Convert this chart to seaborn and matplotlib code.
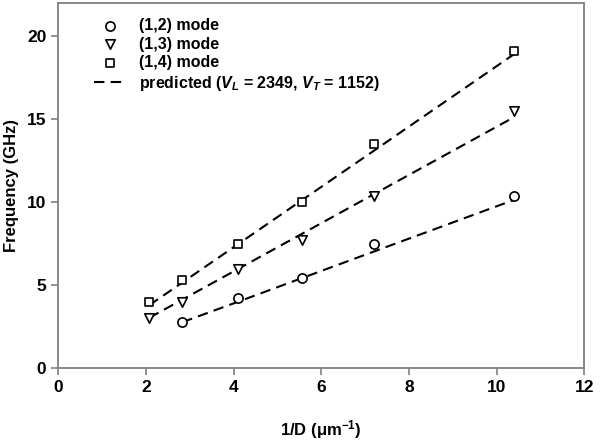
import matplotlib
matplotlib.use("Agg")
import matplotlib.pyplot as plt
import seaborn as sns

x_12 = [2.83, 4.11, 5.56, 7.2, 10.4]
f_12 = [2.8, 4.2, 5.4, 7.5, 10.35]
x_13 = [2.08, 2.83, 4.11, 5.56, 7.2, 10.4]
f_13 = [3.0, 3.95, 5.95, 7.7, 10.35, 15.5]
x_14 = [2.08, 2.83, 4.11, 5.56, 7.2, 10.4]
f_14 = [3.95, 5.3, 7.5, 10.0, 13.5, 19.1]

# predicted curves (V_L = 2349, V_T = 1152)
pred_12 = [2.76, 4.0, 5.42, 7.02, 10.14]
pred_13 = [3.03, 4.12, 5.98, 8.09, 10.48, 15.13]
pred_14 = [3.79, 5.15, 7.48, 10.12, 13.1, 18.93]

sns.set_style("ticks")
plt.rcParams['font.family'] = ['Liberation Sans', 'DejaVu Sans']
plt.rcParams['font.weight'] = 'bold'
plt.rcParams['text.color'] = 'black'
plt.rcParams['axes.labelcolor'] = 'black'
plt.rcParams['xtick.labelcolor'] = 'black'
plt.rcParams['ytick.labelcolor'] = 'black'
plt.rcParams['mathtext.fontset'] = 'custom'
plt.rcParams['mathtext.it'] = 'Liberation Sans:italic:bold'
plt.rcParams['mathtext.rm'] = 'Liberation Sans:bold'

fig = plt.figure(figsize=(6.0, 4.46), dpi=100)
ax = fig.add_axes([0.097, 0.175, 0.877, 0.818])

dash = (5, 3)
for xs, ps in [(x_12, pred_12), (x_13, pred_13), (x_14, pred_14)]:
    sns.lineplot(x=xs, y=ps, ax=ax, color='black', lw=1.5, dashes=False,
                 linestyle=(0, dash), zorder=2)

mk = dict(facecolor='white', edgecolor='black', linewidth=1.2, zorder=3)
sns.scatterplot(x=x_12, y=f_12, marker='o', s=44, ax=ax, label='(1,2) mode', **mk)
sns.scatterplot(x=x_13, y=f_13, marker='v', s=46, ax=ax, label='(1,3) mode', **mk)
sns.scatterplot(x=x_14, y=f_14, marker='s', s=32, ax=ax, label='(1,4) mode', **mk)

handles, labels = ax.get_legend_handles_labels()
line_h = plt.Line2D([], [], color='black', lw=1.5, linestyle=(0, dash))
handles.append(line_h)
labels.append(r'predicted ($V_L$ = 2349, $V_T$ = 1152)')
ax.legend(handles, labels, loc='upper left', bbox_to_anchor=(0.05, 0.985),
          frameon=False, fontsize=11.5, handlelength=2.0, labelspacing=0.22,
          handletextpad=0.8, borderaxespad=0.2)

ax.set_xlim(0, 12)
ax.set_ylim(0, 22)
ax.set_xticks([0, 2, 4, 6, 8, 10, 12])
ax.set_yticks([0, 5, 10, 15, 20])
ax.tick_params(labelsize=12.5, color='#808080', length=5, width=1.2)
for s in ax.spines.values():
    s.set_color('#808080')
    s.set_linewidth(1.3)

ax.set_xlabel('1/D (\u03bcm$^{-1}$)', fontsize=12, fontweight='bold', labelpad=17)
ax.set_ylabel('Frequency (GHz)', fontsize=12, fontweight='bold', labelpad=6)

fig.savefig('out.png', dpi=100)
